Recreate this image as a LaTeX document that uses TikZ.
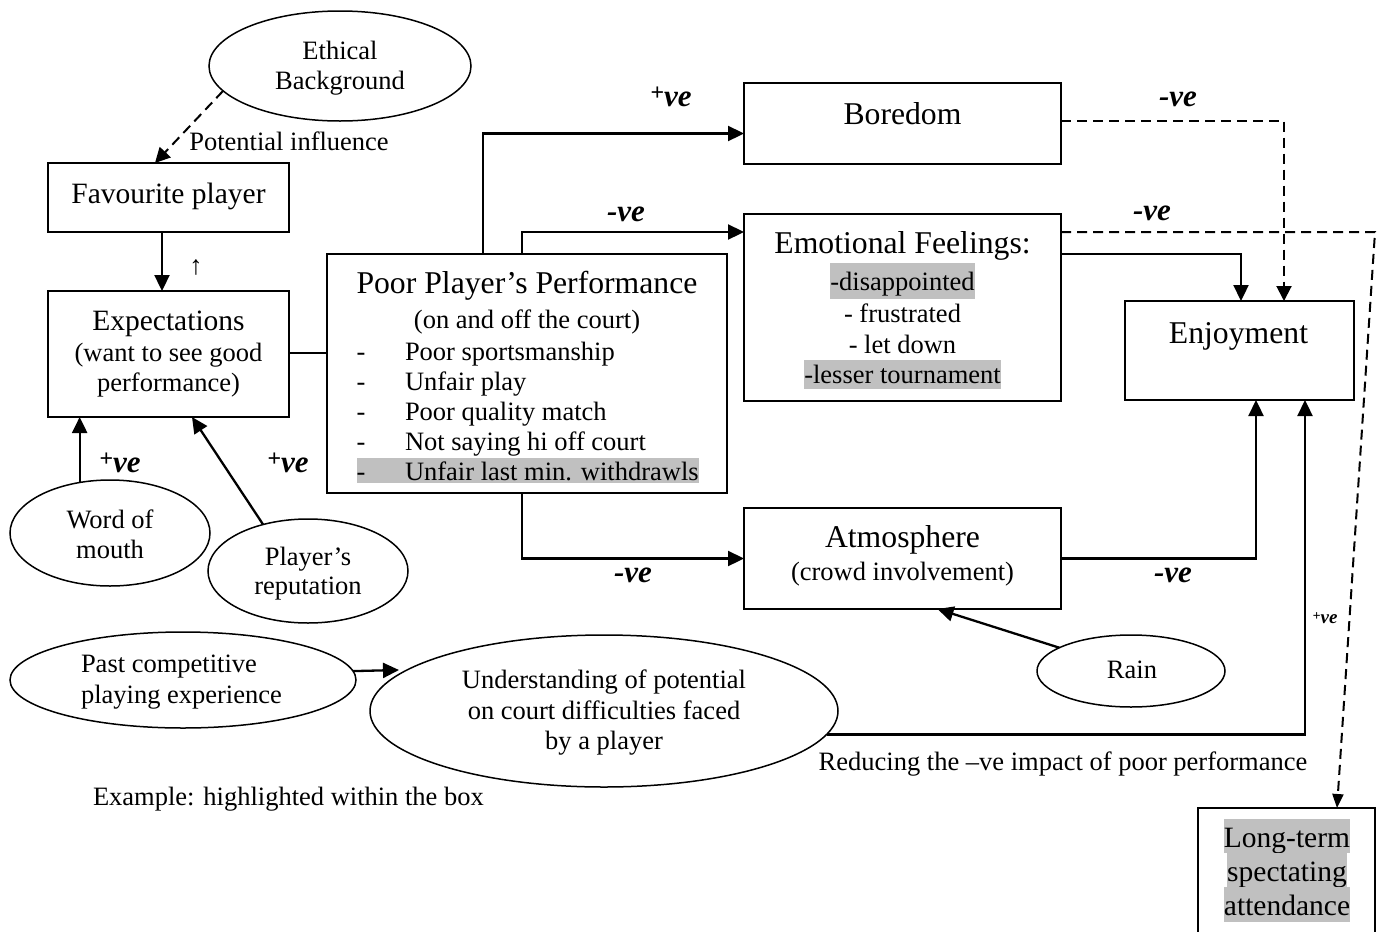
\documentclass[tikz,border=0pt]{standalone}
\usepackage{fontspec}
\setmainfont{Liberation Serif}
\usetikzlibrary{arrows.meta,shapes.geometric,calc}
\definecolor{hl}{RGB}{192,192,192}
\newcommand\szBody{\fontsize{26.5}{30}\selectfont}
\newcommand\szTitle{\fontsize{31.7}{36}\selectfont}
\newcommand\szMid{\fontsize{29.5}{34}\selectfont}
\newcommand\szLab{\fontsize{31}{32}\selectfont\bfseries\itshape}
\newcommand\pve{\raisebox{6pt}{\fontsize{24}{24}\selectfont +}ve}
\begin{document}
\begin{tikzpicture}[x=1pt,y=-1pt,
  box/.style={draw, line width=1.7pt, inner sep=0pt, outer sep=0pt, anchor=north west},
  oval/.style={draw, ellipse, line width=1.5pt, inner sep=0pt, outer sep=0pt},
  txt/.style={inner sep=0pt, outer sep=0pt, anchor=base},
  txtw/.style={inner sep=0pt, outer sep=0pt, anchor=base west},
  lab/.style={inner sep=0pt, font=\szLab},
  arr/.style={line width=2.3pt, -{Triangle[length=16pt,width=15pt]}},
  darr/.style={line width=2pt, dash pattern=on 10pt off 6pt, -{Triangle[length=15pt,width=15pt]}},
  hlt/.style={fill=hl, inner xsep=0pt, inner ysep=0pt}
]
\useasboundingbox (0,0) rectangle (1377,932);

% ---------- ellipses ----------
\node[oval, minimum width=262, minimum height=110] (eth) at (340,66) {};
\node[txt] (ethT1) at (340,59) {\szBody Ethical};
\node[txt] (ethT2) at (340,89) {\szBody Background};
\node[txt] (potT) at (289,150) {\szBody Potential influence};

\node[oval, minimum width=200, minimum height=106] (wom) at (110,533) {};
\node[txt] (womT1) at (110,528) {\szBody Word of};
\node[txt] (womT2) at (110,558) {\szBody mouth};

\node[oval, minimum width=200, minimum height=104] (rep) at (308,571) {};
\node[txt] (repT1) at (308,565) {\szBody Player’s};
\node[txt] (repT2) at (308,594) {\szBody reputation};

\node[oval, minimum width=346, minimum height=96] (past) at (183,680) {};
\node[txtw] (pastT1) at (81,672) {\szBody Past competitive};
\node[txtw] (pastT2) at (81,703) {\szBody playing experience};

\node[oval, minimum width=468, minimum height=152] (und) at (604,711) {};
\node[txt] (undT1) at (604,688) {\szBody Understanding of potential};
\node[txt] (undT2) at (604,719) {\szBody on court difficulties faced};
\node[txt] (undT3) at (604,749) {\szBody by a player};

\node[oval, minimum width=188, minimum height=72] (rain) at (1131,671) {};
\node[txt] (rainT) at (1132,678) {\szBody Rain};

% ---------- boxes ----------
\node[box, minimum width=241, minimum height=69] (fav) at (48,163) {};
\node[txt] (favT) at (168.5,203) {\szMid Favourite player};

\node[box, minimum width=241, minimum height=126] (exp) at (48,291) {};
\node[txt] (expT1) at (168.5,330) {\szMid Expectations};
\node[txt] (expT2) at (168.5,361) {\szBody (want to see good};
\node[txt] (expT3) at (168.5,391) {\szBody performance)};
\node[txt] (upT) at (196,274) {\szBody ↑};

\node[box, minimum width=400, minimum height=239] (poor) at (327,254) {};
\node[hlt, minimum width=342, minimum height=25, anchor=north west] (poorHL) at (357,458) {};
\node[txt] (poorT1) at (527,293) {\szTitle Poor Player’s Performance};
\node[txt] (poorT2) at (527,328) {\szBody (on and off the court)};
\node[txt] (d1) at (361,360) {\szBody -};
\node[txtw] (i1) at (405,360) {\szBody Poor sportsmanship};
\node[txt] (d2) at (361,390) {\szBody -};
\node[txtw] (i2) at (405,390) {\szBody Unfair play};
\node[txt] (d3) at (361,420) {\szBody -};
\node[txtw] (i3) at (405,420) {\szBody Poor quality match};
\node[txt] (d4) at (361,450) {\szBody -};
\node[txtw] (i4) at (405,450) {\szBody Not saying hi off court};
\node[txt] (d5) at (361,480) {\szBody -};
\node[txtw] (i5) at (405,480) {\szBody Unfair last min. withdrawls};

\node[box, minimum width=317, minimum height=81] (bored) at (744,83) {};
\node[txt] (boredT) at (902.5,124) {\szTitle Boredom};

\node[box, minimum width=317, minimum height=187] (emo) at (744,214) {};
\node[txt] (emoT1) at (902.5,253) {\szTitle Emotional Feelings:};
\node[txt, hlt, text height=27pt, text depth=9pt] (emoT2) at (902.5,290) {\szBody -disappointed};
\node[txt] (emoT3) at (902.5,322) {\szBody - frustrated};
\node[txt] (emoT4) at (902.5,353) {\szBody - let down};
\node[txt, hlt, text height=23pt, text depth=6pt] (emoT5) at (902.5,383) {\szBody -lesser tournament};

\node[box, minimum width=229, minimum height=99] (enjoy) at (1125,301) {};
\node[txt] (enjoyT) at (1238.5,343) {\szTitle Enjoyment};

\node[box, minimum width=317, minimum height=101] (atmos) at (744,508) {};
\node[txt] (atmosT1) at (902.5,547) {\szTitle Atmosphere};
\node[txt] (atmosT2) at (902.5,580) {\szBody (crowd involvement)};

\node[box, minimum width=177, minimum height=160] (long) at (1198,808) {};
\node[txt, hlt, text height=28pt, text depth=6pt] (longT1) at (1287,847) {\szMid Long-term};
\node[txt, hlt, text height=28pt, text depth=6pt] (longT2) at (1287,881) {\szMid spectating};
\node[txt, hlt, text height=28pt, text depth=7pt] (longT3) at (1287,915) {\szMid attendance};

% ---------- free texts ----------
\node[txt] (redT) at (1063,770) {\szBody Reducing the –ve impact of poor performance};
\node[txtw] (exT) at (93,805) {\szBody Example: highlighted within the box};

% ---------- labels ----------
\node[lab] (l1) at (671,97) {\pve};
\node[lab] (l2) at (626,214) {-ve};
\node[lab] (l3) at (633,575) {-ve};
\node[lab] (l4) at (1178,99) {-ve};
\node[lab] (l5) at (1152,213) {-ve};
\node[lab] (l6) at (1173,575) {-ve};
\node[lab] (l7) at (120,463) {\pve};
\node[lab] (l8) at (288,463) {\pve};
\node[inner sep=0pt, font=\fontsize{19}{20}\selectfont\bfseries\itshape] (l9) at (1325,618) {\raisebox{3pt}{\fontsize{14}{14}\selectfont +}ve};

% ---------- connectors ----------
\coordinate (cR) at (1375,232);
\coordinate (undL) at (399,670);

\draw[darr] (eth.192) -- ($(fav.north)+(-13.5,0)$);
\draw[arr] ($(fav.south)+(-6.5,0)$) -- ($(exp.north)+(-6.5,0)$);
\draw[line width=1.7pt] ($(exp.east)+(0,-1)$) -- ($(exp.east -| poor.west)+(0,-1)$);
\draw[arr] ($(poor.north)+(-44,0)$) |- ($(bored.west)+(0,10)$);
\draw[arr] ($(poor.north)+(-5,0)$) |- ($(emo.north west)+(0,18)$);
\draw[arr] ($(poor.south)+(-5,0)$) |- (atmos.west);
\draw[darr] ($(bored.east)+(0,-3)$) -| ($(enjoy.north)+(44.5,0)$);
\draw[arr] ($(emo.north east)+(0,40)$) -| ($(enjoy.north)+(1.5,0)$);
\draw[line width=2pt, dash pattern=on 10pt off 6pt, -{Triangle[length=14pt,width=11pt]}] ($(emo.north east)+(0,18)$) -- (cR) -- ($(long.north)+(50.5,0)$);
\draw[arr] (atmos.east) -| ($(enjoy.south)+(16.5,0)$);
\draw[arr] (und.354) -| ($(enjoy.south)+(65.5,0)$);
\draw[arr] (rain.162) -- ($(atmos.south)+(35,0)$);
\draw[arr] (wom.121) -- (wom.121 |- exp.south);
\draw[arr] (rep.134) -- ($(exp.south)+(23.5,0)$);
\draw[arr] (past.3) -- (undL);
\end{tikzpicture}
\end{document}
